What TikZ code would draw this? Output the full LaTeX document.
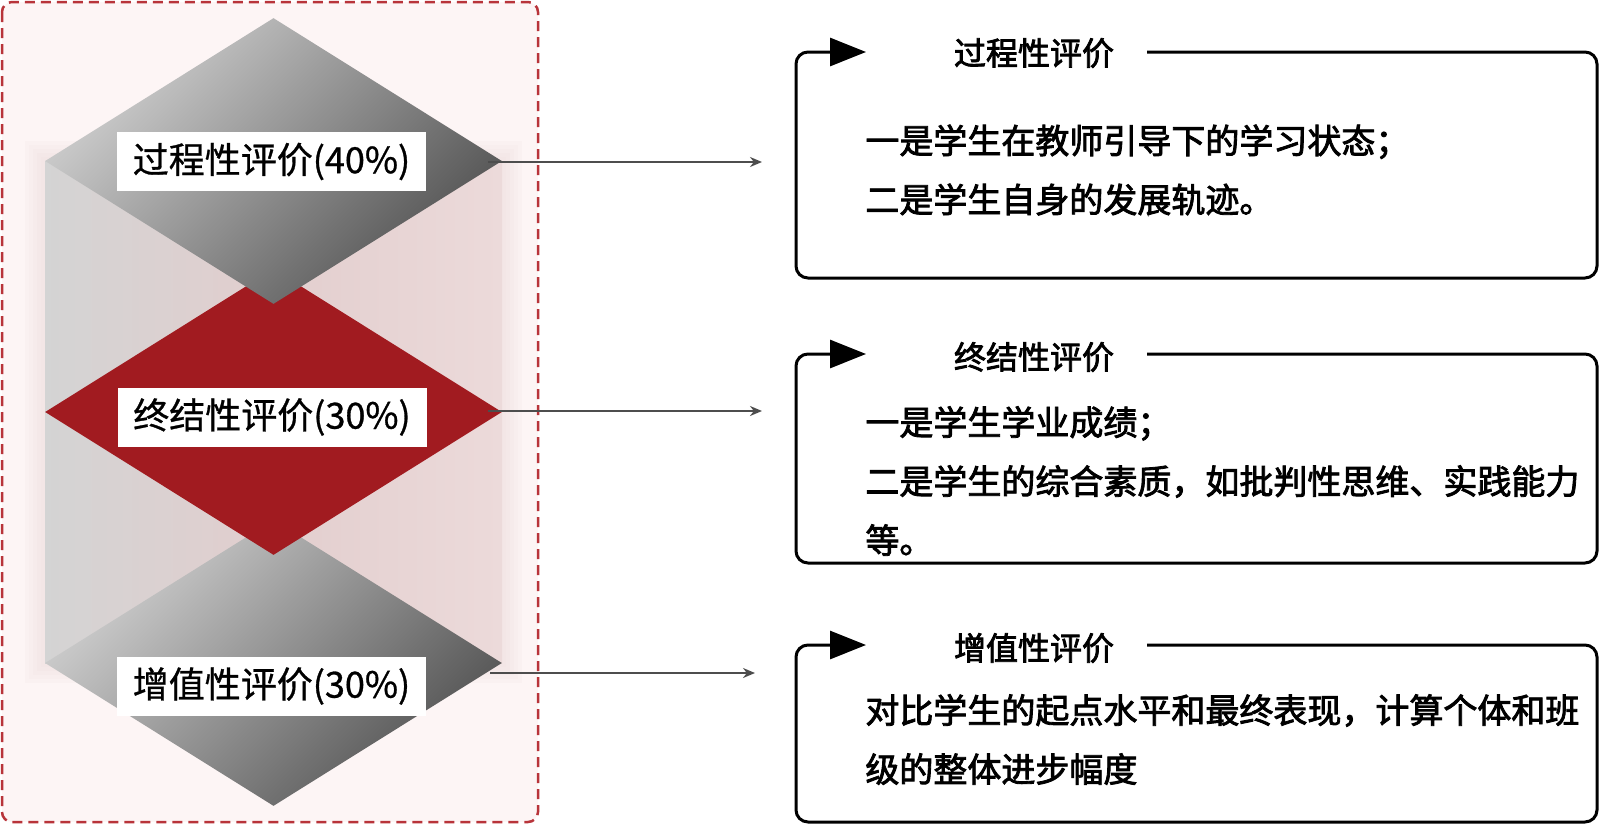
\documentclass[tikz,border=0pt]{standalone}
\usepackage{fontspec}
\newfontfamily\cjkfont{Noto Sans CJK SC}[FakeBold=0.8]
\newfontfamily\cjkbody{Noto Sans CJK SC}[FakeBold=2.4]
\usetikzlibrary{shapes.geometric,arrows.meta,positioning}
\usepackage{xcolor}
\definecolor{deepred}{RGB}{161,27,32}
\definecolor{framered}{RGB}{184,52,58}
\definecolor{blush}{RGB}{253,245,245}
\definecolor{rosy}{RGB}{236,218,218}
\definecolor{arrowgray}{RGB}{77,77,77}

\begin{document}
\begin{tikzpicture}[x=0.5pt, y=-0.5pt,
    gem/.style={diamond, inner sep=0pt, minimum width=228.5pt, minimum height=143pt},
    graygem/.style={gem, top color=black!18, bottom color=black!68, shading angle=45},
    redgem/.style={gem, fill=deepred},
    tag/.style={fill=white, inner sep=0pt, minimum width=154.5pt, minimum height=29.5pt,
                font=\cjkfont\fontsize{18}{18}\selectfont},
    link/.style={-{Stealth[length=6pt,width=5pt]}, line width=1pt, draw=arrowgray},
    frame/.style={line width=1.5pt, rounded corners=6pt, -{Triangle[length=18pt,width=14pt]}},
    head/.style={font=\cjkbody\fontsize{16}{16}\selectfont},
    body/.style={font=\cjkbody\fontsize{17}{29.5}\selectfont, align=left,
                 inner sep=0pt, anchor=west}
]
\useasboundingbox (0,0) rectangle (1600,825);

% dashed panel
\draw[framered, fill=blush, line width=1.25pt, dash pattern=on 5pt off 3pt,
      rounded corners=5pt] (2,2) rectangle (538,822);

% column behind the diamonds
\foreach \g in {4,8,...,20}
  \fill[rosy, opacity=0.12] (45-\g,161-\g) rectangle (502+\g,663+\g);
\fill[left color=black!17, right color=rosy, middle color={rgb,255:red,226;green,206;blue,206}]
  (45,161) rectangle (502,663);

% diamonds
\node[graygem] (d3) at (273.5,663) {};
\node[redgem] (d2) at (273.5,412) {};
\node[graygem] (d1) at (273.5,161) {};

\node[tag] (l1) at (271.5,161.5) {过程性评价(40\%)};
\node[tag] (l2) at (272,417) {终结性评价(30\%)};
\node[tag] (l3) at (271.5,686) {增值性评价(30\%)};

% arrows to the boxes
\coordinate (e1) at (762,162);
\coordinate (e2) at (762,411);
\coordinate (e3) at (755,673);
\draw[link] ([xshift=-7pt, yshift=-0.5pt]d1.east) -- (e1);
\draw[link] ([xshift=-7pt, yshift=0.5pt]d2.east) -- (e2);
\draw[link] ([xshift=-6pt, yshift=-5pt]d3.east) -- (e3);

% box 1
\draw[frame] (1147,52) -- (1597,52) -- (1597,278) -- (796,278) -- (796,52) -- (866,52);
\node[head] (t1) at (1034,53) {过程性评价};
\node[body] (b1) at (865,170) {一是学生在教师引导下的学习状态；\\二是学生自身的发展轨迹。};

% box 2
\draw[frame] (1147,354) -- (1597,354) -- (1597,563) -- (796,563) -- (796,354) -- (866,354);
\node[head] (t2) at (1034,357) {终结性评价};
\node[body] (b2) at (865,481) {一是学生学业成绩；\\二是学生的综合素质，如批判性思维、实践能力\\等。};

% box 3
\draw[frame] (1147,645) -- (1597,645) -- (1597,822) -- (796,822) -- (796,645) -- (866,645);
\node[head] (t3) at (1034,648) {增值性评价};
\node[body] (b3) at (865,739.5) {对比学生的起点水平和最终表现，计算个体和班\\级的整体进步幅度};

\end{tikzpicture}
\end{document}
